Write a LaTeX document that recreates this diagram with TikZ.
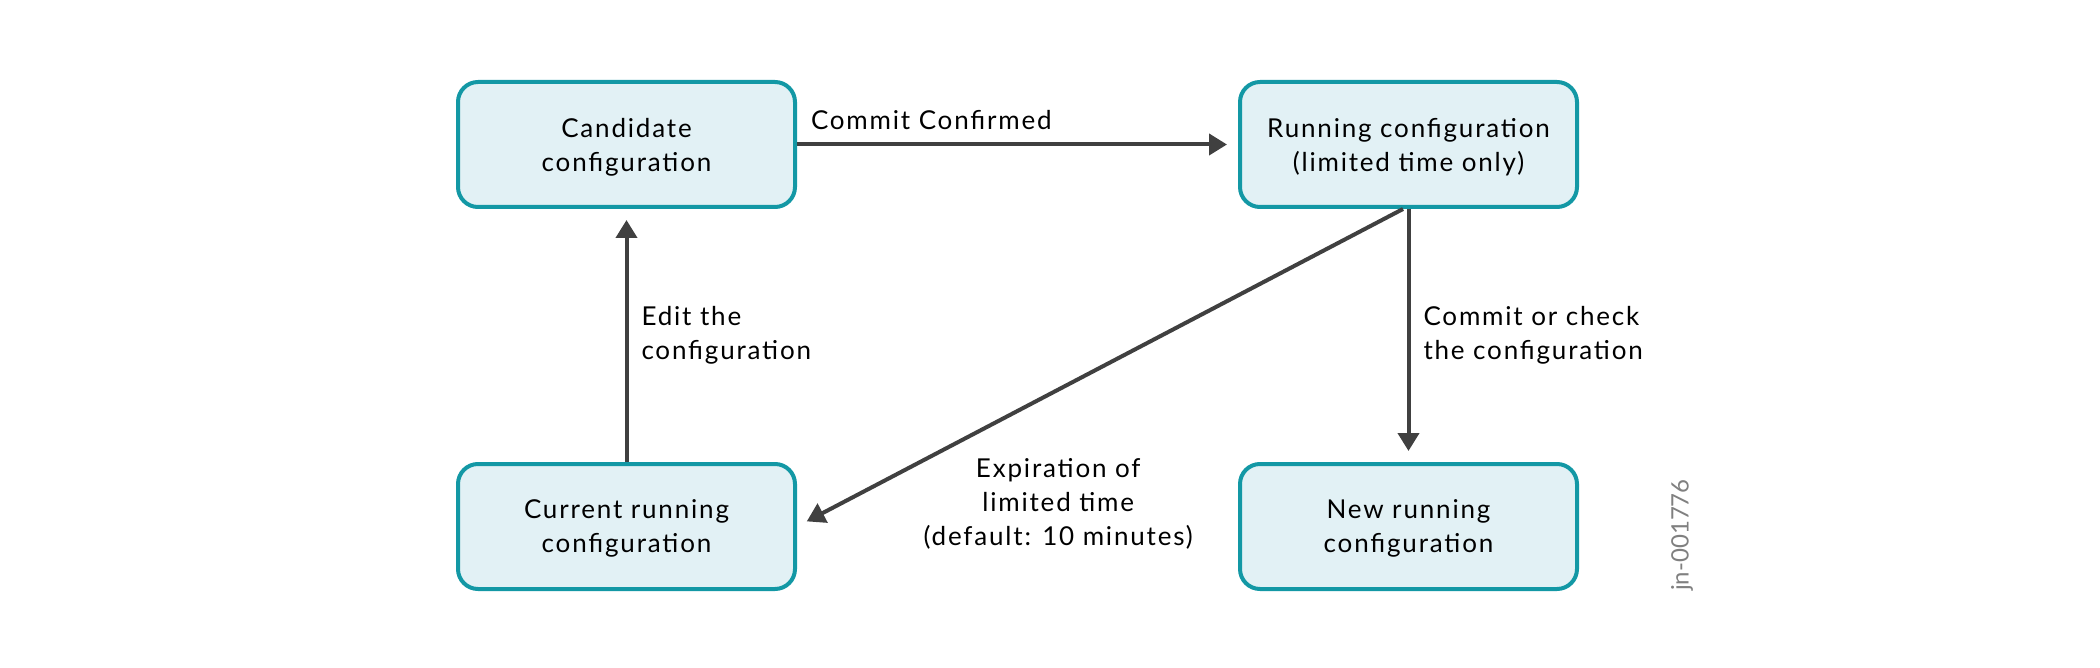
\documentclass[tikz,border=0pt]{standalone}
\usepackage{fontspec}
\setmainfont{Lato}[LetterSpace=7]
\usepackage{tikz}
\usetikzlibrary{
  % bigger, sized arrow tips
  arrows.meta,%
  positioning,%
  calc
}
\definecolor{boxfill}{HTML}{E2F1F5}
\definecolor{boxline}{HTML}{1398A5}
\definecolor{arrowgray}{HTML}{404040}
\tikzset{>={Triangle[length=9pt,width=10.5pt]}}
\tikzset{font=\fontsize{13}{17}\selectfont}
\tikzset{cfgbox/.style={draw=boxline, fill=boxfill, line width=2pt,
    rounded corners=10pt, minimum width=168.5pt, minimum height=62.5pt,
    align=center, inner sep=0pt, text depth=-2.5pt},
  flow/.style={->, draw=arrowgray, line width=2pt, shorten >=5.5pt},
  lbl/.style={inner sep=0pt, align=left}}

\begin{document}
\begin{tikzpicture}[x=0.5pt, y=-0.5pt]
        \useasboundingbox (0,0) rectangle (2100,668);
        % the four states
        \node[cfgbox] (cand) at (626.5,144.5) {Candidate\\configuration};
        \node[cfgbox] (run) at (1408.5,144.5) {Running configuration\\(limited time only)};
        \node[cfgbox] (cur) at (626.5,526.5) {Current running\\configuration};
        \node[cfgbox] (new) at (1408.5,526.5) {New running\\configuration};
        % transitions
        \draw[flow] (cand) -- node[lbl, at start, anchor=base west, xshift=6pt, yshift=7.5pt] (cc) {Commit Confirmed} (run);
        \draw[flow] (run) -- node[lbl, anchor=west, xshift=6.5pt] (cchk) {Commit or check\\the configuration} (new);
        \draw[flow] (cur) -- node[lbl, anchor=west, xshift=6.5pt] (edit) {Edit the\\configuration} (cand);
        \draw[flow] ([xshift=-2.75pt]run.south) -- node[lbl, pos=0.569, anchor=north, align=center, yshift=-33.4pt] (exp) {Expiration of\\limited time\\(default: 10 minutes)} (cur.east);
        \node[rotate=90, text=gray, font=\fontsize{12}{14}\selectfont\addfontfeature{LetterSpace=0}] (jn) at (1682,535) {jn-001776};
      \end{tikzpicture}
\end{document}
